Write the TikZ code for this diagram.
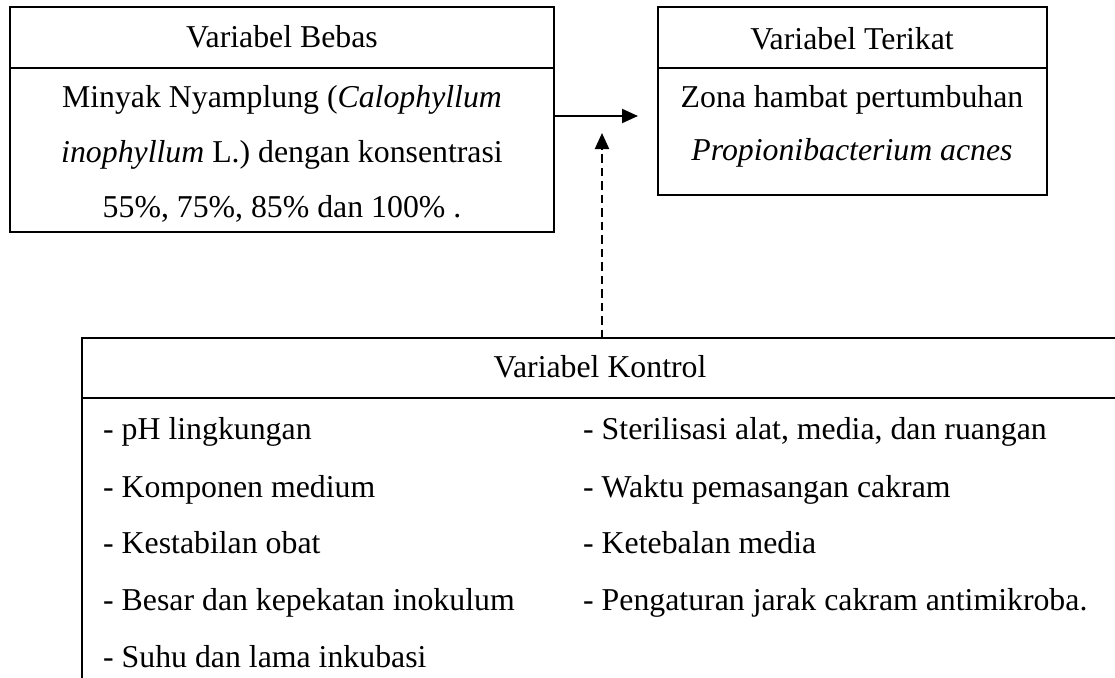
\documentclass[tikz,border=0pt]{standalone}
\usepackage{fontspec}
\setmainfont{Liberation Serif}
\usetikzlibrary{arrows.meta}
\begin{document}
\begin{tikzpicture}[x=1pt,y=-1pt,
  box/.style={draw,line width=2.2pt,anchor=north west,inner sep=0pt,outer sep=0pt},
  txt/.style={anchor=base,inner sep=0pt,font=\fontsize{31.8}{31.8}\selectfont},
  ltxt/.style={anchor=base west,inner sep=0pt,font=\fontsize{31.8}{31.8}\selectfont},
  arr/.style={line width=2pt,-{Triangle[length=16pt,width=14pt]}},
  dsh/.style={dash pattern=on 8.5pt off 5pt}]
\useasboundingbox (0,0) rectangle (1115,677);
% boxes
\node[box,minimum width=544pt,minimum height=225pt] (bebas) at (10,7) {};
\draw[line width=2.2pt] ([yshift=-61pt]bebas.north west) -- ([yshift=-61pt]bebas.north east);
\node[box,minimum width=389pt,minimum height=188pt] (terikat) at (658,7) {};
\draw[line width=2.2pt] ([yshift=-61pt]terikat.north west) -- ([yshift=-61pt]terikat.north east);
\node[box,minimum width=1060pt,minimum height=360pt] (kontrol) at (82,338) {};
\draw[line width=2.2pt] ([yshift=-60pt]kontrol.north west) -- ([yshift=-60pt]kontrol.north east);
% texts
\node[txt] (tb0) at (282,48) {Variabel Bebas};
\node[txt] (tb1) at (282,107) {Minyak Nyamplung (\textit{Calophyllum}};
\node[txt] (tb2) at (282,162) {\textit{inophyllum} L.) dengan konsentrasi};
\node[txt] (tb3) at (282,217) {55\%, 75\%, 85\% dan 100\% .};
\node[txt] (tt0) at (852,50) {Variabel Terikat};
\node[txt] (tt1) at (852,107) {Zona hambat pertumbuhan};
\node[txt] (tt2) at (852,160) {\textit{Propionibacterium acnes}};
\node[txt] (tk0) at (600,377) {Variabel Kontrol};
\node[ltxt] (k1) at (103,439) {- pH lingkungan};
\node[ltxt] (k2) at (103,497) {- Komponen medium};
\node[ltxt] (k3) at (103,553) {- Kestabilan obat};
\node[ltxt] (k4) at (103,610) {- Besar dan kepekatan inokulum};
\node[ltxt] (k5) at (103,667) {- Suhu dan lama inkubasi};
\node[ltxt] (k6) at (583,439) {- Sterilisasi alat, media, dan ruangan};
\node[ltxt] (k7) at (583,497) {- Waktu pemasangan cakram};
\node[ltxt] (k8) at (583,553) {- Ketebalan media};
\node[ltxt] (k9) at (583,610) {- Pengaturan jarak cakram antimikroba.};
% connectors
\draw[arr,shorten >=20pt] (bebas.east |- 0,116) -- (terikat.west |- 0,116);
\coordinate (jn) at (602,133);
\draw[arr,dsh] (kontrol.north -| jn) -- (jn);
\end{tikzpicture}
\end{document}
